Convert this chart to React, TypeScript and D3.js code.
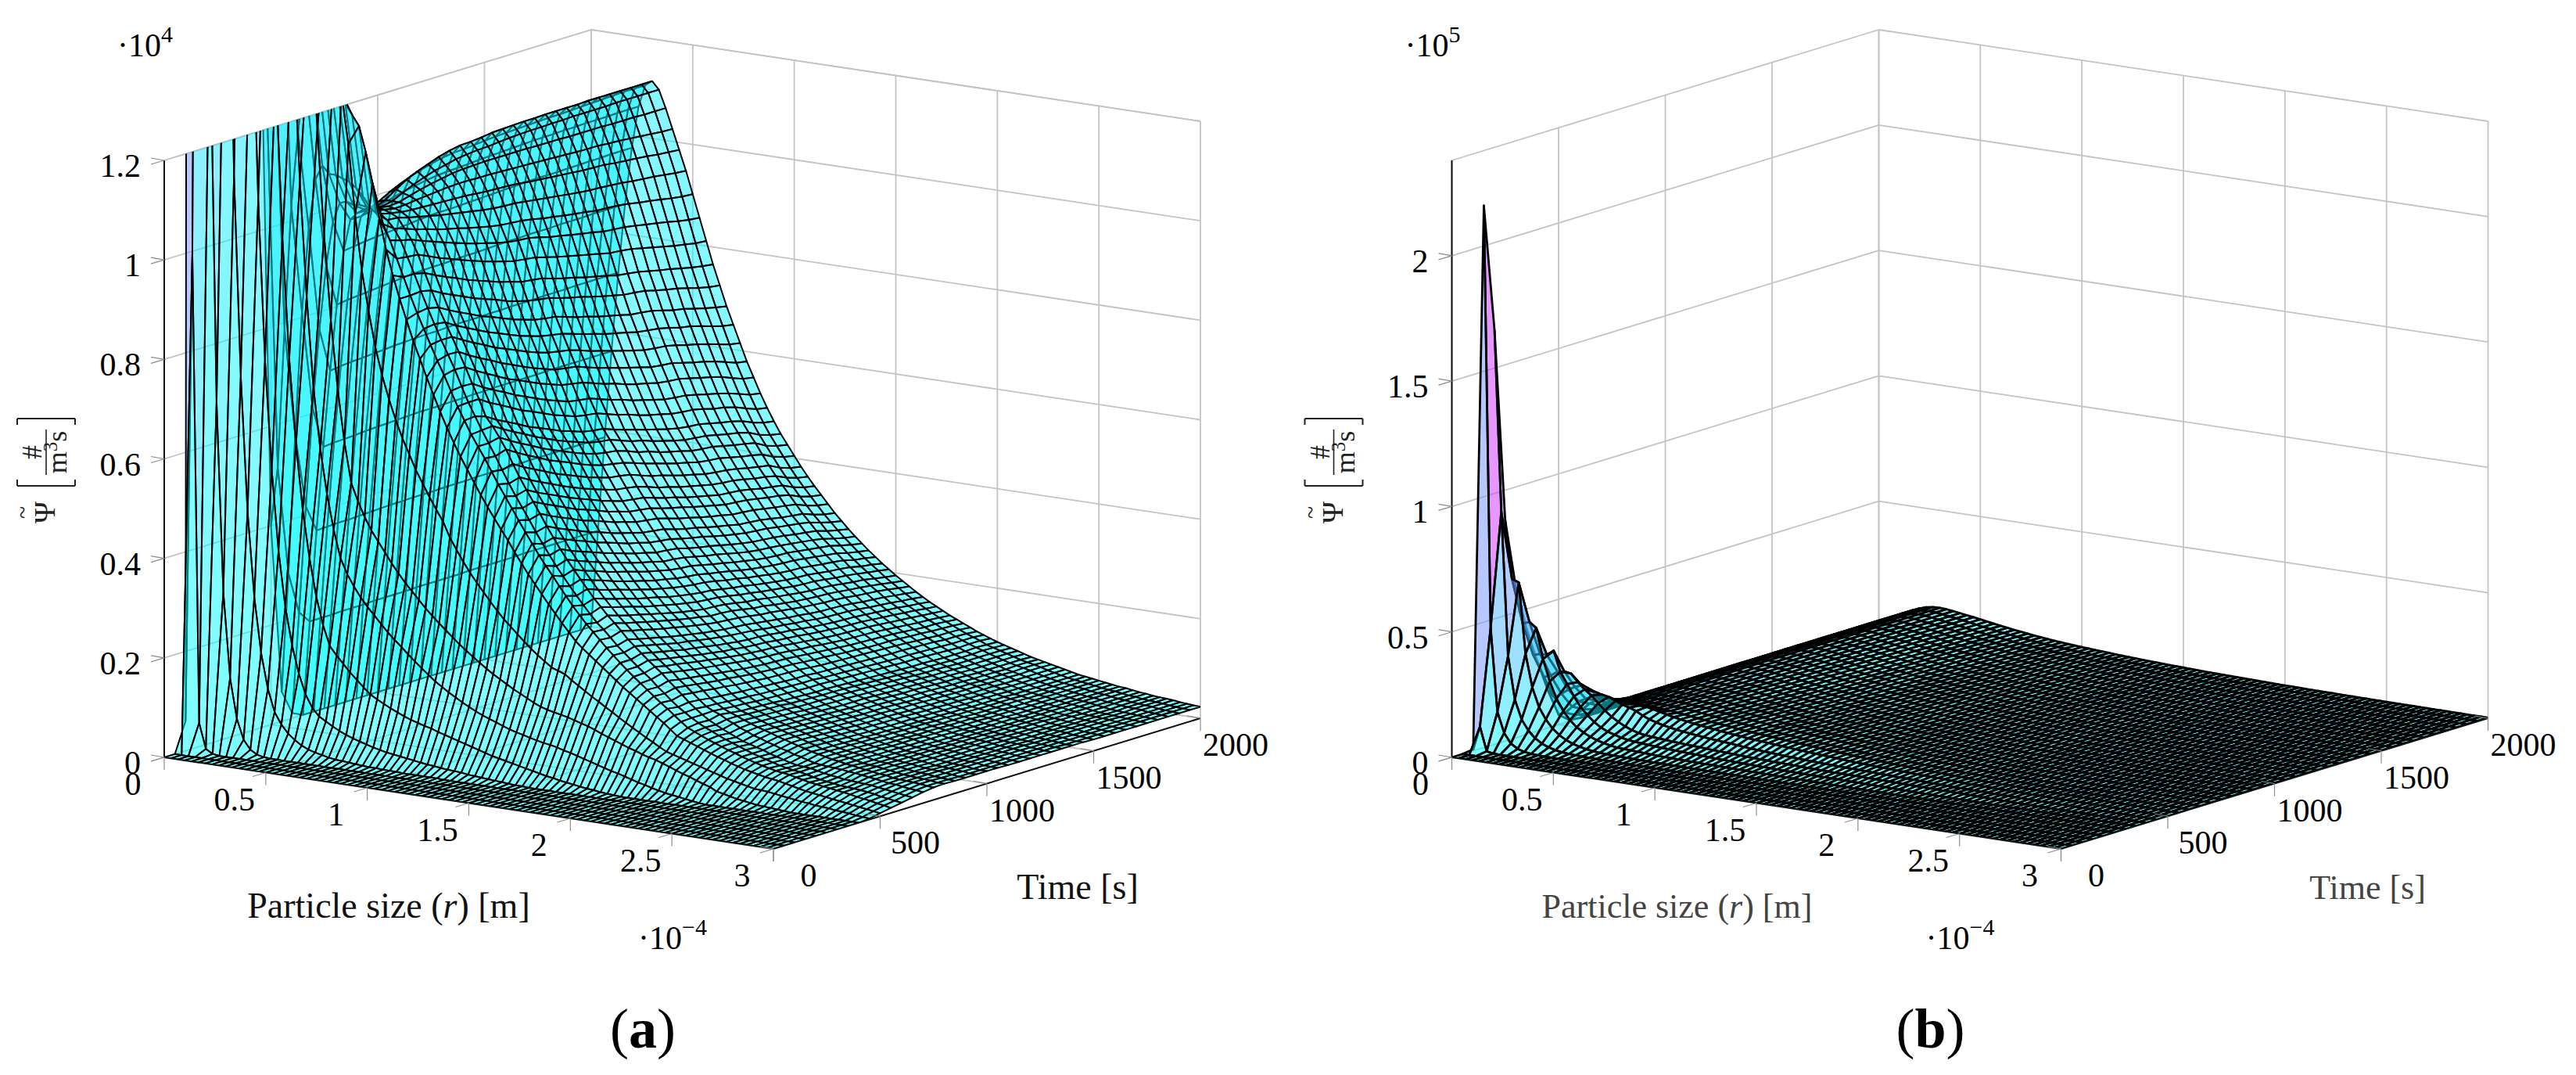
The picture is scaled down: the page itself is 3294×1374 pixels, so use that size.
import React, { useEffect, useRef } from "react";
import * as d3 from "d3";

// grid of the surface
const radii = d3.range(91).map((j) => (j / 30) * 1e-4);
const times = d3.range(41).map((i) => i * 50);

// Psi / 10. One row per time, one value per radius, missing tail = 0
const psiRows: number[][] = [
  [],
  [],
  [60, 1000, 60, 10, 2],
  [21600, 4800, 1500, 700, 320, 150, 70, 30, 12, 4, 1],
  [16500, 9300, 3600, 1900, 1150, 750, 480, 310, 200, 130, 85, 62, 46, 35, 26, 20, 16, 13, 10, 8, 7, 6, 5, 4, 3, 3, 2, 2, 2, 1, 1, 1, 1, 1, 1],
  [8800, 6500, 6400, 3600, 2300, 1550, 1100, 780, 560, 400, 290, 215, 160, 120, 95, 80, 72, 64, 57, 51, 46, 42, 38, 34, 31, 28, 26, 24, 22, 20, 18, 16, 15, 13, 12, 11, 10, 8, 7, 6, 5, 4, 3, 2, 1, 1],
  [6000, 4600, 4700, 4500, 3300, 2450, 1800, 1350, 1020, 780, 610, 480, 385, 310, 255, 215, 198, 183, 168, 155, 142, 130, 122, 115, 108, 102, 96, 91, 87, 83, 80, 75, 71, 67, 63, 59, 55, 51, 47, 43, 40, 37, 34, 31, 28, 25, 22, 19, 17, 14, 12, 10, 8, 6, 5, 3, 2, 1],
  [4200, 3200, 3300, 3300, 3500, 2700, 2250, 1800, 1420, 1130, 900, 720, 600, 510, 440, 385, 355, 332, 312, 295, 280, 265, 250, 237, 225, 212, 200, 188, 177, 166, 157, 148, 140, 132, 125, 118, 112, 107, 102, 97, 92, 88, 85, 81, 78, 75, 73, 70, 66, 63, 59, 55, 51, 47, 43, 39, 36, 32, 28, 24, 21, 17, 14, 11, 9, 7, 5, 3, 1],
  [2800, 2200, 2300, 2500, 2550, 2500, 2200, 1950, 1750, 1480, 1230, 1020, 850, 715, 610, 530, 495, 465, 440, 420, 400, 380, 362, 345, 330, 315, 300, 287, 274, 262, 250, 238, 227, 217, 207, 197, 188, 180, 172, 164, 157, 150, 143, 137, 133, 130, 127, 124, 120, 116, 112, 107, 101, 96, 91, 86, 81, 77, 72, 68, 65, 60, 55, 50, 45, 41, 36, 31, 27, 20, 17, 14, 11, 9, 7, 5, 4, 3, 2, 1],
  [1500, 1250, 1450, 1650, 1800, 1900, 1820, 1720, 1650, 1600, 1480, 1380, 1300, 1200, 1060, 950, 870, 800, 745, 700, 660, 625, 595, 565, 540, 515, 492, 470, 440, 417, 395, 375, 357, 340, 323, 307, 292, 279, 266, 253, 241, 230, 220, 210, 205, 200, 190, 181, 172, 163, 155, 146, 138, 129, 121, 113, 105, 97, 90, 82, 75, 71, 67, 63, 59, 55, 51, 47, 43, 39, 36, 33, 30, 27, 26, 25, 23, 21, 19, 17, 15, 14, 12, 11, 10, 8, 7, 6, 4, 3, 2],
  [400, 520, 800, 1050, 1200, 1320, 1340, 1320, 1300, 1290, 1280, 1270, 1250, 1230, 1180, 1120, 1050, 990, 940, 895, 855, 815, 780, 745, 712, 680, 650, 622, 596, 572, 548, 525, 503, 482, 462, 442, 420, 400, 380, 362, 344, 326, 309, 292, 276, 260, 248, 237, 226, 215, 204, 193, 182, 172, 162, 152, 142, 132, 122, 111, 100, 95, 90, 85, 80, 75, 70, 66, 61, 57, 53, 50, 47, 44, 42, 40, 37, 34, 31, 28, 26, 24, 22, 20, 18, 16, 14, 12, 10, 8, 6],
  [60, 300, 580, 830, 1000, 1100, 1130, 1115, 1115, 1110, 1105, 1095, 1080, 1060, 1050, 1030, 1000, 965, 930, 895, 862, 832, 802, 772, 745, 715, 686, 660, 634, 612, 590, 566, 542, 520, 498, 476, 454, 433, 412, 393, 375, 356, 338, 320, 304, 288, 274, 260, 246, 233, 220, 208, 196, 185, 174, 163, 152, 142, 131, 120, 110, 104, 98, 92, 87, 82, 77, 73, 68, 64, 60, 56, 53, 50, 48, 46, 43, 40, 37, 35, 33, 31, 29, 27, 25, 22, 20, 18, 15, 13, 10],
  [10, 215, 430, 630, 790, 920, 1010, 1050, 1055, 1050, 1052, 1050, 1045, 1040, 1030, 1015, 993, 962, 930, 897, 865, 835, 805, 778, 750, 718, 688, 662, 636, 612, 588, 562, 537, 514, 492, 470, 447, 426, 405, 385, 367, 349, 332, 315, 299, 284, 272, 258, 244, 232, 220, 208, 197, 186, 173, 162, 150, 139, 130, 121, 113, 106, 100, 94, 88, 83, 78, 73, 68, 64, 60, 56, 52, 49, 47, 45, 42, 39, 36, 34, 32, 30, 29, 28, 27, 25, 23, 20, 18, 16, 14],
  [0, 190, 375, 545, 700, 835, 945, 1010, 1025, 1035, 1040, 1042, 1040, 1035, 1028, 1008, 988, 960, 925, 892, 860, 832, 805, 777, 748, 717, 688, 655, 638, 617, 595, 568, 543, 520, 498, 476, 453, 432, 411, 392, 374, 356, 339, 322, 307, 292, 279, 265, 250, 238, 226, 214, 203, 192, 179, 167, 155, 142, 131, 121, 112, 105, 98, 92, 86, 80, 76, 72, 68, 63, 59, 55, 51, 48, 47, 46, 43, 40, 38, 36, 34, 33, 32, 31, 30, 28, 26, 24, 22, 20, 18],
  [0, 190, 376, 547, 703, 838, 948, 1010, 1025, 1032, 1035, 1038, 1036, 1031, 1022, 1000, 979, 950, 914, 880, 848, 819, 792, 763, 734, 703, 674, 642, 625, 604, 582, 555, 531, 508, 487, 465, 442, 422, 401, 383, 365, 348, 331, 315, 300, 285, 272, 259, 244, 233, 221, 209, 198, 188, 175, 164, 152, 140, 129, 122, 117, 109, 103, 96, 91, 85, 81, 76, 72, 67, 64, 59, 56, 52, 48, 46, 45, 44, 43, 41, 40, 38, 36, 34, 32, 30, 29, 27, 25, 24, 22],
  [0, 190, 377, 548, 705, 840, 951, 1015, 1035, 1040, 1040, 1040, 1037, 1029, 1017, 994, 971, 940, 904, 870, 837, 808, 780, 751, 722, 691, 663, 631, 613, 592, 570, 544, 520, 498, 477, 455, 433, 413, 393, 375, 358, 341, 324, 308, 294, 279, 267, 254, 239, 228, 216, 205, 195, 184, 172, 161, 150, 137, 128, 120, 114, 109, 103, 98, 93, 89, 85, 80, 76, 72, 68, 64, 60, 57, 54, 51, 49, 46, 44, 42, 40, 38, 36, 35, 32, 31, 30, 29, 28, 26, 25],
  [0, 191, 377, 549, 706, 842, 953, 1022, 1047, 1055, 1050, 1046, 1040, 1028, 1012, 987, 963, 932, 895, 860, 827, 797, 769, 740, 710, 680, 651, 620, 602, 581, 559, 533, 510, 488, 467, 446, 424, 405, 385, 367, 350, 333, 318, 302, 288, 274, 261, 248, 234, 223, 212, 201, 191, 180, 169, 158, 147, 135, 126, 118, 111, 107, 102, 97, 92, 88, 84, 80, 76, 72, 68, 64, 59, 57, 54, 51, 49, 46, 43, 41, 40, 38, 36, 34, 32, 31, 30, 29, 28, 26, 26],
  [0, 191, 378, 551, 708, 844, 955, 1028, 1057, 1068, 1060, 1052, 1042, 1027, 1007, 981, 955, 923, 885, 850, 816, 786, 757, 728, 698, 668, 639, 608, 590, 569, 547, 522, 499, 478, 457, 436, 415, 396, 377, 359, 343, 326, 311, 295, 281, 268, 256, 243, 229, 218, 207, 197, 187, 177, 166, 155, 145, 133, 124, 117, 110, 106, 101, 96, 91, 87, 83, 79, 75, 71, 67, 63, 59, 56, 53, 51, 49, 46, 43, 41, 40, 38, 36, 34, 32, 31, 30, 28, 27, 26, 25],
  [0, 191, 379, 552, 709, 846, 957, 1034, 1066, 1078, 1068, 1057, 1044, 1026, 1003, 976, 948, 915, 877, 842, 808, 777, 748, 718, 689, 658, 630, 599, 580, 559, 538, 513, 490, 469, 449, 429, 408, 389, 370, 353, 337, 320, 305, 290, 276, 263, 251, 239, 225, 215, 204, 193, 184, 174, 163, 153, 142, 131, 123, 115, 109, 105, 100, 95, 90, 86, 82, 78, 74, 70, 66, 62, 58, 56, 53, 50, 48, 45, 43, 41, 39, 37, 36, 34, 32, 31, 30, 28, 27, 25, 25],
  [0, 192, 380, 553, 711, 848, 959, 1038, 1073, 1086, 1075, 1061, 1046, 1025, 999, 970, 941, 907, 869, 834, 799, 768, 739, 708, 679, 648, 620, 590, 570, 550, 529, 504, 481, 461, 441, 421, 400, 382, 363, 346, 330, 314, 299, 285, 271, 258, 246, 234, 221, 211, 200, 190, 180, 171, 160, 150, 140, 130, 121, 114, 108, 104, 99, 94, 89, 85, 81, 77, 73, 69, 65, 61, 57, 55, 52, 50, 48, 45, 43, 41, 39, 37, 35, 33, 31, 30, 29, 28, 27, 25, 25],
  [0, 192, 381, 554, 712, 850, 961, 1042, 1079, 1094, 1080, 1065, 1047, 1024, 995, 965, 935, 900, 861, 825, 790, 759, 729, 698, 669, 638, 610, 580, 561, 540, 519, 495, 473, 452, 432, 413, 393, 374, 356, 340, 324, 308, 294, 279, 266, 253, 242, 230, 217, 207, 196, 186, 177, 168, 157, 148, 138, 128, 120, 113, 106, 102, 97, 92, 88, 84, 80, 76, 72, 68, 64, 60, 57, 55, 52, 49, 47, 45, 42, 40, 39, 37, 35, 33, 31, 30, 29, 28, 26, 25, 25],
  [0, 192, 381, 555, 713, 851, 963, 1045, 1084, 1100, 1085, 1067, 1047, 1022, 991, 960, 929, 894, 855, 818, 783, 752, 721, 690, 661, 630, 602, 573, 553, 532, 511, 488, 466, 445, 426, 407, 387, 369, 351, 335, 319, 304, 289, 275, 262, 249, 238, 226, 214, 204, 193, 184, 174, 165, 155, 146, 136, 127, 119, 112, 105, 101, 96, 91, 87, 83, 79, 75, 71, 67, 63, 59, 56, 54, 51, 49, 47, 44, 42, 40, 39, 37, 35, 33, 31, 30, 29, 28, 26, 25, 25],
  [0, 192, 382, 556, 714, 852, 964, 1047, 1087, 1104, 1088, 1068, 1046, 1020, 988, 956, 924, 888, 848, 812, 776, 745, 714, 682, 653, 622, 594, 565, 545, 525, 504, 481, 459, 438, 419, 400, 381, 363, 345, 329, 314, 299, 285, 271, 258, 245, 234, 223, 211, 201, 190, 181, 172, 163, 153, 144, 135, 125, 118, 111, 104, 100, 96, 91, 86, 82, 78, 74, 70, 66, 63, 59, 56, 54, 51, 49, 47, 44, 42, 40, 38, 36, 35, 33, 31, 30, 29, 28, 26, 25, 24],
  [0, 193, 382, 556, 714, 852, 964, 1048, 1088, 1105, 1090, 1069, 1046, 1019, 986, 954, 921, 885, 845, 808, 772, 741, 710, 678, 649, 618, 590, 561, 541, 521, 500, 478, 456, 435, 416, 397, 378, 360, 343, 327, 311, 296, 282, 268, 256, 244, 233, 221, 209, 199, 188, 179, 170, 161, 152, 143, 134, 124, 117, 110, 103, 99, 95, 90, 85, 81, 77, 73, 70, 66, 62, 58, 55, 53, 50, 48, 46, 44, 41, 39, 38, 36, 35, 33, 31, 30, 29, 28, 26, 25, 24],
  [0, 193, 382, 556, 715, 853, 965, 1049, 1090, 1107, 1091, 1069, 1045, 1018, 985, 952, 919, 882, 842, 805, 769, 737, 706, 675, 645, 615, 587, 558, 538, 518, 496, 474, 452, 432, 413, 394, 375, 357, 340, 324, 309, 294, 280, 266, 254, 242, 231, 219, 207, 197, 187, 178, 169, 160, 151, 142, 133, 124, 117, 110, 103, 99, 95, 90, 85, 81, 77, 73, 70, 66, 62, 58, 55, 53, 50, 48, 46, 44, 41, 39, 38, 36, 35, 33, 31, 30, 29, 28, 26, 25, 24],
  [0, 193, 383, 557, 716, 854, 966, 1051, 1092, 1110, 1093, 1069, 1044, 1016, 982, 948, 914, 876, 835, 798, 762, 730, 699, 667, 637, 607, 579, 550, 530, 511, 489, 466, 445, 425, 406, 388, 368, 351, 334, 319, 304, 289, 276, 262, 250, 238, 227, 216, 204, 194, 185, 175, 167, 158, 149, 140, 131, 122, 115, 109, 102, 98, 94, 89, 85, 81, 77, 73, 69, 65, 62, 58, 55, 53, 50, 48, 46, 43, 41, 39, 38, 36, 35, 33, 31, 30, 29, 28, 26, 25, 24],
  [0, 193, 383, 557, 716, 854, 967, 1052, 1094, 1111, 1095, 1069, 1043, 1013, 979, 943, 908, 870, 829, 792, 755, 723, 691, 659, 629, 599, 571, 543, 522, 502, 481, 458, 437, 418, 400, 381, 362, 346, 329, 314, 299, 285, 271, 258, 246, 234, 223, 212, 201, 191, 182, 173, 164, 155, 147, 138, 129, 121, 114, 108, 101, 97, 93, 88, 84, 80, 76, 72, 68, 64, 61, 57, 54, 52, 49, 47, 45, 43, 41, 39, 38, 36, 34, 32, 31, 30, 29, 27, 26, 25, 24],
  [0, 193, 383, 558, 716, 855, 968, 1053, 1095, 1112, 1096, 1069, 1042, 1011, 976, 940, 904, 865, 824, 787, 750, 717, 685, 653, 623, 593, 565, 537, 517, 497, 475, 453, 432, 413, 395, 376, 358, 342, 325, 310, 295, 281, 268, 255, 243, 232, 221, 210, 198, 189, 180, 171, 162, 154, 145, 137, 128, 120, 113, 107, 100, 96, 92, 87, 83, 79, 75, 71, 68, 64, 60, 57, 54, 52, 49, 47, 45, 42, 40, 39, 37, 35, 34, 32, 30, 29, 28, 27, 26, 25, 24],
  [0, 194, 384, 558, 717, 856, 969, 1054, 1096, 1113, 1097, 1068, 1041, 1009, 973, 936, 899, 860, 818, 781, 743, 710, 678, 646, 615, 585, 557, 530, 509, 489, 468, 446, 425, 406, 389, 370, 352, 336, 320, 305, 290, 276, 263, 251, 239, 228, 217, 207, 195, 186, 177, 168, 159, 151, 143, 135, 127, 119, 112, 106, 99, 95, 91, 87, 82, 78, 74, 70, 67, 63, 60, 56, 53, 51, 49, 47, 45, 42, 40, 38, 37, 35, 33, 32, 30, 29, 28, 27, 26, 24, 24],
  [0, 194, 384, 559, 717, 857, 970, 1055, 1097, 1113, 1097, 1068, 1040, 1007, 970, 933, 895, 855, 813, 775, 738, 705, 672, 640, 609, 579, 551, 524, 503, 483, 462, 440, 420, 401, 384, 365, 347, 331, 315, 300, 286, 272, 260, 247, 236, 225, 214, 204, 193, 184, 174, 166, 157, 149, 141, 133, 126, 118, 111, 105, 98, 94, 90, 86, 82, 78, 74, 70, 66, 63, 59, 56, 53, 51, 48, 46, 44, 42, 40, 38, 37, 35, 33, 32, 30, 29, 28, 27, 25, 24, 24],
  [0, 194, 384, 559, 718, 857, 971, 1056, 1098, 1114, 1098, 1068, 1039, 1005, 967, 930, 891, 850, 808, 770, 733, 700, 666, 634, 604, 573, 546, 518, 497, 478, 457, 435, 415, 396, 379, 361, 343, 327, 311, 296, 282, 269, 256, 244, 233, 222, 211, 201, 190, 181, 172, 164, 155, 147, 139, 132, 125, 117, 110, 104, 97, 93, 89, 85, 81, 77, 73, 69, 66, 62, 59, 55, 52, 50, 48, 46, 44, 42, 40, 38, 37, 35, 33, 31, 30, 29, 28, 26, 25, 24, 23],
  [0, 194, 384, 559, 718, 858, 972, 1057, 1099, 1114, 1098, 1067, 1038, 1003, 965, 926, 886, 845, 802, 765, 727, 694, 660, 628, 598, 567, 540, 513, 492, 472, 451, 429, 410, 391, 374, 356, 338, 323, 307, 293, 279, 266, 253, 241, 230, 219, 209, 199, 188, 179, 170, 162, 154, 146, 138, 130, 124, 116, 109, 103, 96, 92, 88, 84, 80, 76, 72, 68, 65, 62, 58, 55, 52, 50, 48, 46, 44, 41, 39, 38, 36, 35, 33, 31, 30, 29, 28, 26, 25, 24, 23],
  [0, 194, 384, 559, 718, 858, 972, 1057, 1099, 1114, 1099, 1067, 1037, 1002, 964, 925, 884, 843, 799, 763, 725, 691, 657, 625, 595, 564, 537, 510, 489, 469, 448, 426, 407, 389, 372, 354, 336, 321, 305, 291, 277, 264, 251, 239, 228, 217, 207, 197, 187, 178, 169, 161, 153, 145, 137, 129, 123, 115, 108, 102, 95, 91, 87, 83, 79, 75, 71, 68, 65, 61, 58, 55, 52, 50, 48, 45, 43, 41, 39, 38, 36, 34, 33, 31, 30, 29, 28, 26, 25, 24, 23],
  [0, 195, 385, 559, 719, 858, 972, 1058, 1100, 1114, 1099, 1067, 1037, 1001, 962, 923, 882, 840, 796, 760, 722, 688, 655, 623, 593, 562, 535, 508, 487, 467, 446, 424, 405, 387, 370, 352, 334, 319, 303, 289, 276, 263, 250, 238, 227, 216, 206, 196, 186, 177, 168, 160, 152, 144, 136, 129, 122, 115, 108, 102, 95, 91, 87, 83, 79, 75, 71, 68, 65, 61, 58, 55, 52, 50, 48, 45, 43, 41, 39, 38, 36, 34, 33, 31, 30, 29, 28, 26, 25, 24, 23],
  [0, 195, 385, 560, 719, 859, 973, 1058, 1101, 1115, 1099, 1067, 1035, 998, 960, 920, 878, 835, 791, 754, 716, 683, 650, 617, 588, 557, 530, 503, 482, 462, 441, 420, 401, 383, 366, 348, 330, 315, 300, 286, 273, 260, 247, 235, 224, 214, 204, 194, 184, 175, 166, 158, 150, 142, 135, 128, 121, 114, 107, 101, 94, 90, 86, 82, 78, 74, 70, 67, 64, 61, 58, 54, 51, 49, 47, 45, 43, 41, 39, 38, 36, 34, 32, 31, 30, 29, 28, 26, 25, 24, 23],
  [0, 195, 385, 560, 719, 859, 973, 1059, 1102, 1115, 1099, 1066, 1034, 996, 957, 916, 874, 830, 786, 749, 710, 677, 644, 611, 582, 551, 524, 498, 477, 457, 436, 415, 396, 378, 362, 344, 326, 312, 296, 283, 270, 257, 244, 232, 221, 211, 201, 191, 181, 172, 164, 156, 148, 140, 133, 126, 119, 113, 106, 100, 93, 89, 85, 81, 77, 73, 70, 67, 64, 60, 57, 54, 51, 49, 47, 45, 43, 41, 39, 38, 36, 34, 32, 30, 29, 28, 27, 26, 25, 24, 23],
  [0, 195, 385, 560, 720, 859, 974, 1059, 1103, 1115, 1100, 1066, 1032, 994, 955, 913, 870, 825, 782, 745, 706, 673, 639, 606, 577, 546, 520, 494, 473, 453, 432, 411, 393, 375, 359, 341, 323, 309, 293, 280, 267, 254, 242, 230, 219, 208, 199, 189, 179, 170, 162, 154, 146, 138, 131, 125, 118, 112, 105, 99, 93, 89, 85, 81, 77, 73, 70, 67, 64, 60, 57, 54, 51, 49, 47, 45, 43, 41, 39, 38, 36, 34, 32, 30, 29, 28, 27, 26, 25, 24, 23],
  [0, 195, 385, 560, 720, 860, 974, 1059, 1104, 1115, 1100, 1066, 1030, 992, 953, 909, 866, 820, 777, 739, 700, 667, 633, 600, 571, 540, 514, 488, 467, 448, 427, 407, 388, 371, 354, 337, 320, 305, 290, 276, 264, 251, 239, 227, 216, 206, 196, 187, 177, 168, 160, 152, 144, 136, 129, 123, 116, 110, 104, 98, 93, 89, 85, 81, 77, 73, 69, 66, 63, 60, 57, 54, 51, 49, 47, 45, 43, 41, 39, 38, 36, 34, 33, 31, 30, 29, 28, 26, 25, 24, 23],
  [0, 195, 385, 560, 720, 860, 975, 1060, 1105, 1115, 1100, 1065, 1028, 989, 950, 905, 861, 816, 772, 733, 694, 660, 626, 592, 562, 532, 505, 479, 456, 436, 416, 396, 378, 361, 344, 328, 312, 298, 283, 270, 258, 245, 233, 222, 212, 202, 193, 184, 174, 165, 157, 150, 142, 135, 129, 122, 116, 110, 104, 99, 94, 90, 85, 81, 77, 73, 70, 67, 64, 60, 57, 54, 51, 49, 47, 45, 43, 41, 39, 38, 36, 34, 33, 31, 30, 29, 28, 26, 25, 24, 23],
  [0, 195, 385, 560, 720, 860, 975, 1060, 1105, 1115, 1100, 1065, 1026, 987, 947, 902, 857, 812, 768, 728, 689, 654, 619, 584, 554, 524, 497, 472, 449, 429, 409, 389, 371, 354, 338, 322, 306, 292, 278, 265, 253, 241, 230, 219, 209, 198, 189, 180, 171, 163, 155, 147, 140, 133, 127, 121, 115, 109, 104, 99, 93, 89, 85, 81, 77, 73, 70, 67, 64, 60, 57, 54, 51, 49, 47, 45, 43, 41, 39, 38, 36, 34, 33, 31, 30, 29, 28, 26, 25, 24, 23],
  [0, 195, 385, 560, 720, 860, 975, 1060, 1105, 1115, 1100, 1065, 1025, 985, 945, 900, 855, 810, 765, 725, 685, 650, 615, 580, 550, 520, 493, 468, 445, 425, 405, 385, 367, 350, 334, 318, 302, 288, 274, 261, 249, 237, 226, 215, 205, 195, 186, 177, 168, 160, 152, 145, 138, 131, 125, 119, 113, 107, 102, 97, 92, 88, 84, 80, 76, 72, 69, 66, 63, 60, 57, 54, 51, 49, 47, 45, 43, 41, 39, 38, 36, 34, 33, 31, 30, 29, 28, 26, 25, 24, 23],
];

const radiusTicks = [0, 0.5e-4, 1e-4, 1.5e-4, 2e-4, 2.5e-4, 3e-4];
const radiusLabels = ["0", "0.5", "1", "1.5", "2", "2.5", "3"];
const timeTicks = [0, 500, 1000, 1500, 2000];
const psiTicksA = [0, 2000, 4000, 6000, 8000, 10000, 12000];
const psiLabelsA = ["0", "0.2", "0.4", "0.6", "0.8", "1", "1.2"];
const psiTicksB = [0, 50000, 100000, 150000, 200000];
const psiLabelsB = ["0", "0.5", "1", "1.5", "2"];

const W = 3294;
const H = 1374;
const SERIF = "'Liberation Serif', 'DejaVu Serif', serif";
const GRID = "#c4c4c4";
const TICK = "#8c8c8c";

const cool = d3.scaleLinear<string>().domain([0, 160000]).range(["#00ffff", "#ff00ff"]).clamp(true);

function drawPanel(svg: any, id: string, cfg: any) {
  const g = svg.append("g").attr("transform", `translate(${cfg.ox},0)`);

  // oblique projection of the box, left corner is (210, 968)
  const rx = d3.scaleLinear().domain([0, 3e-4]).range([0, 779]);
  const ry = d3.scaleLinear().domain([0, 3e-4]).range([0, 117]);
  const tx = d3.scaleLinear().domain([0, 2000]).range([0, 546]);
  const ty = d3.scaleLinear().domain([0, 2000]).range([0, -167]);
  const zy = d3.scaleLinear().domain([0, cfg.zMax]).range([0, -763]);
  const px = (r: number, t: number) => 210 + rx(r) + tx(t);
  const py = (r: number, t: number, z: number) => 968 + ry(r) + ty(t) + zy(z);
  const pt = (r: number, t: number, z: number): [number, number] => [px(r, t), py(r, t, z)];

  const seg = (a: [number, number], b: [number, number], color: string, w: number) =>
    g.append("line")
      .attr("x1", a[0]).attr("y1", a[1]).attr("x2", b[0]).attr("y2", b[1])
      .attr("stroke", color).attr("stroke-width", w);

  // walls and floor
  cfg.zTicks.forEach((z: number) => {
    seg(pt(0, 0, z), pt(0, 2000, z), GRID, 1.8);
    seg(pt(0, 2000, z), pt(3e-4, 2000, z), GRID, 1.8);
  });
  timeTicks.forEach((t) => {
    seg(pt(0, t, 0), pt(0, t, cfg.zMax), GRID, 1.8);
    seg(pt(0, t, 0), pt(3e-4, t, 0), GRID, 1.8);
  });
  radiusTicks.forEach((r) => {
    seg(pt(r, 2000, 0), pt(r, 2000, cfg.zMax), GRID, 1.8);
    seg(pt(r, 0, 0), pt(r, 2000, 0), GRID, 1.8);
  });
  seg(pt(0, 0, cfg.zMax), pt(0, 2000, cfg.zMax), GRID, 1.8);
  seg(pt(0, 2000, cfg.zMax), pt(3e-4, 2000, cfg.zMax), GRID, 1.8);

  // surface, clipped to the outline of the box
  const hull = [
    pt(0, 0, 0), pt(0, 0, cfg.zMax), pt(0, 2000, cfg.zMax),
    pt(3e-4, 2000, cfg.zMax), pt(3e-4, 2000, 0), pt(3e-4, 0, 0),
  ];
  svg.append("clipPath").attr("id", id)
    .append("polygon").attr("points", hull.map((p) => p.join(",")).join(" "));
  const surface = g.append("g").attr("clip-path", `url(#${id})`);

  const value = (i: number, j: number) => (psiRows[i][j] ?? 0) * 10;
  const cell = d3.line();
  const cells: any[] = [];
  for (let i = times.length - 2; i >= 0; i--) {
    for (let j = 0; j < radii.length - 1; j++) {
      const corners = [[i, j], [i, j + 1], [i + 1, j + 1], [i + 1, j]];
      cells.push({
        path: cell(corners.map(([a, b]) => pt(radii[b], times[a], value(a, b)))) + "Z",
        mean: d3.mean(corners, ([a, b]) => value(a, b)),
      });
    }
  }
  surface.selectAll("path").data(cells).enter().append("path")
    .attr("d", (d: any) => d.path)
    .attr("fill", (d: any) => cool(d.mean))
    .attr("fill-opacity", 0.5)
    .attr("stroke", "#000")
    .attr("stroke-width", cfg.meshWidth)
    .attr("stroke-linejoin", "round");

  // black axes
  seg(pt(0, 0, 0), pt(0, 0, cfg.zMax), "#111", 2);
  seg(pt(0, 0, 0), pt(3e-4, 0, 0), "#111", 2);
  seg(pt(3e-4, 0, 0), pt(3e-4, 2000, 0), "#111", 2);

  const label = (x: number, y: number, s: string, anchor = "middle", size = 42) =>
    g.append("text").attr("x", x).attr("y", y).attr("text-anchor", anchor)
      .attr("font-family", SERIF).attr("font-size", size).attr("fill", "#000").text(s);

  // ticks and tick labels
  cfg.zTicks.forEach((z: number, k: number) => {
    const p = pt(0, 0, z);
    seg(p, [p[0] - 17, p[1] - 3], TICK, 1.2);
    seg(p, [p[0] - 17, p[1] + 5], TICK, 1.2);
    label(p[0] - 30, p[1] + 21, cfg.zLabels[k], "end");
  });
  radiusTicks.forEach((r, k) => {
    const p = pt(r, 0, 0);
    seg(p, [p[0], p[1] + 16], TICK, 1.2);
    seg(p, [p[0] - 17, p[1] + 5], TICK, 1.2);
    label(p[0] - 40, p[1] + 48, radiusLabels[k]);
  });
  timeTicks.forEach((t) => {
    const p = pt(3e-4, t, 0);
    seg(p, [p[0], p[1] + 16], TICK, 1.2);
    seg(p, [p[0] - 17, p[1] - 3], TICK, 1.2);
    label(p[0] + 45, p[1] + 48, String(t));
  });

  // scale factors
  const power = (x: number, y: number, sup: string) => {
    const t = g.append("text").attr("x", x).attr("y", y)
      .attr("font-family", SERIF).attr("font-size", 42).attr("fill", "#000");
    t.append("tspan").text("\u00b710");
    t.append("tspan").attr("dy", -18).attr("font-size", 30).text(sup);
  };
  power(150, 72, cfg.zPower);
  power(816, 1213, "\u22124");

  // axis titles
  const rTitle = g.append("text").attr("x", cfg.rTitleX).attr("y", 1173).attr("text-anchor", "middle")
    .attr("font-family", SERIF).attr("font-size", cfg.titleSize).attr("fill", cfg.titleColor);
  rTitle.append("tspan").text("Particle size (");
  rTitle.append("tspan").attr("font-style", "italic").text("r");
  rTitle.append("tspan").text(") [m]");
  g.append("text").attr("x", cfg.tTitleX).attr("y", 1149).attr("text-anchor", "middle")
    .attr("font-family", SERIF).attr("font-size", cfg.titleSize).attr("fill", cfg.titleColor).text("Time [s]");

  // rotated z title
  const zt = g.append("g").attr("transform", "translate(59,578) rotate(-90)")
    .attr("font-family", SERIF).attr("fill", "#222");
  zt.append("text").attr("x", -77).attr("y", 11).attr("text-anchor", "middle").attr("font-size", 38).text("\u03a8");
  zt.append("text").attr("x", -77).attr("y", -20).attr("text-anchor", "middle").attr("font-size", 30).text("~");
  zt.append("text").attr("x", 0).attr("y", -6).attr("text-anchor", "middle").attr("font-size", 36).text("#");
  const ms = zt.append("text").attr("x", 0).attr("y", 26).attr("text-anchor", "middle").attr("font-size", 36);
  ms.append("tspan").text("m");
  ms.append("tspan").attr("dy", -12).attr("font-size", 25).text("3");
  ms.append("tspan").attr("dy", 12).text("s");
  const dash = (x1: number, y1: number, x2: number, y2: number, w: number) =>
    zt.append("line").attr("x1", x1).attr("y1", y1).attr("x2", x2).attr("y2", y2)
      .attr("stroke", "#222").attr("stroke-width", w);
  dash(-29, 0, 29, 0, 1.6);
  [-43, 43].forEach((x) => {
    dash(x, -37, x, 37, 2);
    dash(x, 37, x + (x < 0 ? 8 : -8), 37, 2);
    dash(x, -37, x + (x < 0 ? 8 : -8), -37, 2);
  });

  // caption
  const cap = g.append("text").attr("x", 822).attr("y", 1339).attr("text-anchor", "middle")
    .attr("font-family", SERIF).attr("font-size", 72).attr("fill", "#000");
  cap.append("tspan").text("(");
  cap.append("tspan").attr("font-weight", "bold").text(cfg.caption);
  cap.append("tspan").text(")");
}

export default function App() {
  const ref = useRef<SVGSVGElement>(null);

  useEffect(() => {
    const svg = d3.select(ref.current);
    svg.selectAll("*").remove();
    drawPanel(svg, "clipA", {
      ox: 0, zMax: 12000, zTicks: psiTicksA, zLabels: psiLabelsA, zPower: "4",
      meshWidth: 2, caption: "a", titleSize: 46, titleColor: "#111",
      rTitleX: 497, tTitleX: 1378,
    });
    drawPanel(svg, "clipB", {
      ox: 1646.5, zMax: 238000, zTicks: psiTicksB, zLabels: psiLabelsB, zPower: "5",
      meshWidth: 2.8, caption: "b", titleSize: 44, titleColor: "#444",
      rTitleX: 498, tTitleX: 1381,
    });
  }, []);

  return <svg ref={ref} width={W} height={H} style={{ position: "absolute", left: 0, top: 0, background: "#fff" }} />;
}
